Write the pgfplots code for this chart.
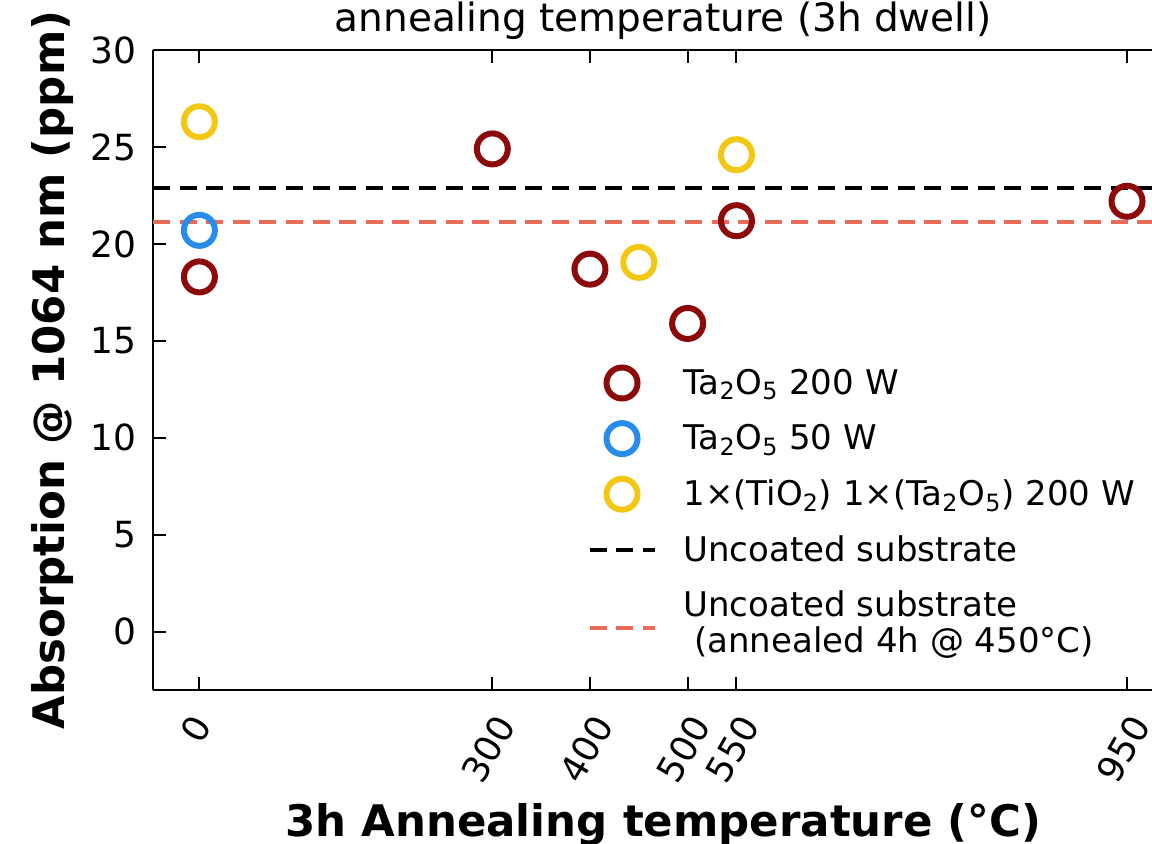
\documentclass[border=0pt]{standalone}
\usepackage{fontspec}
\setmainfont{DejaVu Sans}
\usepackage{graphicx}
\usepackage{pgfplots}
\pgfplotsset{compat=1.18}
\definecolor{cdred}{RGB}{140,10,10}
\definecolor{cblue}{RGB}{40,140,235}
\definecolor{cyell}{RGB}{242,200,20}
\definecolor{csalm}{RGB}{232,108,88}
\begin{document}
\begin{tikzpicture}
\begin{axis}[
  name=ax, at={(0,0)}, anchor=south west,
  scale only axis, width=510.2pt, height=320pt,
  axis x line*=box, axis y line*=left,
  xmin=-47.5, xmax=997.5, ymin=-3, ymax=30,
  xtick={0,300,400,500,550,950},
  xticklabels={\rotatebox{60}{0},\rotatebox{60}{300},\rotatebox{60}{400},\rotatebox{60}{500},\rotatebox{60}{550},\rotatebox{60}{950}},
  ytick={0,5,10,15,20,25,30},
  xtick pos=both, tick align=inside,
  major tick length=6.5pt,
  axis line style={line width=1pt},
  every tick/.style={black, line width=1pt},
  /pgf/number format/assume math mode=true,
  tick label style={font=\fontsize{18}{21.6}\selectfont},
  yticklabel style={inner sep=0pt, anchor=east, xshift=-8pt},
  xticklabel style={inner sep=0pt, anchor=north, yshift=-11pt, xshift=-2pt},
  title={annealing temperature (3h dwell)},
  title style={at={(axis description cs:0.5,1.01)}, anchor=base, inner sep=0pt, font=\fontsize{19.5}{23}\selectfont},
  xlabel={3h Annealing temperature (°C)},
  xlabel style={at={(axis description cs:0.5,-0.2285)}, anchor=base, inner sep=0pt, font=\fontsize{21.75}{26}\selectfont\bfseries},
  ylabel={Absorption @ 1064 nm (ppm)},
  ylabel style={at={(axis description cs:-0.0872,0.5)}, anchor=base, inner sep=0pt, font=\fontsize{21.75}{26}\selectfont\bfseries},
  legend cell align=left,
  legend style={at={(axis description cs:0.4278,0.5086)}, anchor=north west, draw=none, fill=none, inner sep=0pt, outer sep=0pt, row sep=9.3pt, column sep=14.5pt, font=\fontsize{17}{18}\selectfont, nodes={inner sep=0pt, outer sep=0pt}},
  legend image code/.code={\pgfpathrectangle{\pgfpoint{0pt}{-9.25pt}}{\pgfpoint{32.5pt}{18.5pt}}\pgfusepath{use as bounding box}\draw[mark repeat=2,mark phase=2,#1] plot coordinates {(0pt,0pt) (16.25pt,0pt) (32.5pt,0pt)};},
]
\addplot[only marks, mark=o, mark size=7.75pt, cdred, line width=3pt] coordinates {(0,18.3) (300,24.9) (400,18.7) (500,15.9) (550,21.2) (950,22.2)};
\addlegendentry{Ta\textsubscript{2}O\textsubscript{5} 200 W}
\addplot[only marks, mark=o, mark size=7.75pt, cblue, line width=3pt] coordinates {(0,20.7)};
\addlegendentry{Ta\textsubscript{2}O\textsubscript{5} 50 W}
\addplot[only marks, mark=o, mark size=7.75pt, cyell, line width=3pt] coordinates {(0,26.3) (450,19.05) (550,24.6)};
\addlegendentry{1×(TiO\textsubscript{2}) 1×(Ta\textsubscript{2}O\textsubscript{5}) 200 W}
\addplot[black, line width=2.2pt, dash pattern=on 8.5pt off 4.8pt, mark=none] coordinates {(-47.5,22.9) (997.5,22.9)};
\addlegendentry{Uncoated substrate}
\addplot[csalm, line width=2.2pt, dash pattern=on 8.5pt off 4.8pt, mark=none,
  legend image code/.code={\pgfpathrectangle{\pgfpoint{0pt}{-9.25pt}}{\pgfpoint{32.5pt}{18.5pt}}\pgfusepath{use as bounding box}\draw[csalm, line width=2.2pt, dash pattern=on 8.5pt off 4.8pt] (0pt,-8pt) -- (32.5pt,-8pt);}] coordinates {(-47.5,21.12) (997.5,21.12)};
\addlegendentry{\begin{tabular}{@{}l@{}}\rule{0pt}{14.6pt}Uncoated substrate\\~(annealed 4h @ 450°C)\end{tabular}}
\end{axis}
\pgfresetboundingbox
\useasboundingbox (ax.south west) ++(-76.5pt,-76.5pt) rectangle ++(576pt,421.5pt);
\end{tikzpicture}
\end{document}
